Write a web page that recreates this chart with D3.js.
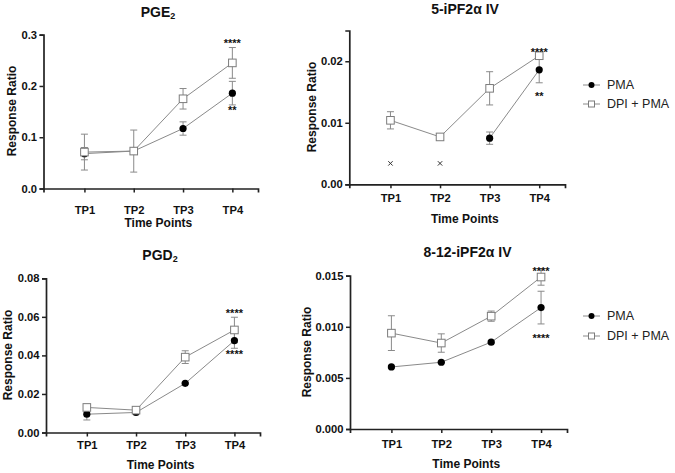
<!DOCTYPE html>
<html><head><meta charset="utf-8">
<script src="https://cdn.jsdelivr.net/npm/d3@7"></script>
<style>
html,body{margin:0;padding:0;background:#fff;}
svg{display:block;font-family:Arial,"Liberation Sans",sans-serif;}
</style></head>
<body><svg id="c" width="675" height="473"></svg>
<script>
// ---- data ----
const timePoints = ["TP1", "TP2", "TP3", "TP4"];
const seriesNames = ["PMA", "DPI + PMA"];

const pgePma    = [0.068, 0.073, 0.117, 0.186];
const pgePmaErr = [0.012, 0.006, 0.013, 0.023];
const pgeDpi    = [0.071, 0.073, 0.175, 0.245];
const pgeDpiErr = [0.035, 0.041, 0.020, 0.030];
const pgeTicks  = [0, 0.1, 0.2, 0.3];

const ipf5Pma    = [null, null, 0.0075, 0.0186];
const ipf5PmaErr = [null, null, 0.0010, 0.0021];
const ipf5PmaNd  = [0.0034, 0.0034, null, null];
const ipf5Dpi    = [0.0104, 0.0077, 0.0156, 0.0209];
const ipf5DpiErr = [0.0014, 0.0004, 0.0027, 0.0004];
const ipf5Ticks  = [0, 0.01, 0.02];

const pgdPma    = [0.0095, 0.0104, 0.0255, 0.0477];
const pgdPmaErr = [0.0030, 0.0006, 0.0005, 0.0040];
const pgdDpi    = [0.0130, 0.0116, 0.0391, 0.0532];
const pgdDpiErr = [0.0007, 0.0006, 0.0033, 0.0066];
const pgdTicks  = [0, 0.02, 0.04, 0.06, 0.08];

const ipf812Pma    = [0.00607, 0.00653, 0.00850, 0.01188];
const ipf812PmaErr = [0.0001, 0.0001, 0.0001, 0.0016];
const ipf812Dpi    = [0.00938, 0.00841, 0.01104, 0.01487];
const ipf812DpiErr = [0.0017, 0.0009, 0.0005, 0.0008];
const ipf812Ticks  = [0, 0.005, 0.010, 0.015];

const pgeStars    = {dpi: [null, null, null, "****"], pma: [null, null, null, "**"]};
const ipf5Stars   = {dpi: [null, null, null, "****"], pma: [null, null, null, "**"]};
const pgdStars    = {dpi: [null, null, null, "****"], pma: [null, null, null, "****"]};
const ipf812Stars = {dpi: [null, null, null, "****"], pma: [null, null, null, "****"]};

// ---- panels (layout) ----
const panels = [
  {title: [["PGE", 0], ["2", 1]], pma: pgePma, pmaErr: pgePmaErr, dpi: pgeDpi, dpiErr: pgeDpiErr,
   ticks: pgeTicks, fmt: ".1f", yMax: 0.3, stars: pgeStars,
   left: 43.5, right: 258, top: 34.7, bottom: 188.5, titleX: 158, titleY: 12,
   tickPad: 13.5, xTitleY: 223, yTitleX: 11.5, yTitleY: 111, starUp: 7, starDown: 3, legendY: null},
  {title: [["5-iPF2\u03b1 IV", 0]], pma: ipf5Pma, pmaErr: ipf5PmaErr, nd: ipf5PmaNd, dpi: ipf5Dpi, dpiErr: ipf5DpiErr,
   ticks: ipf5Ticks, fmt: ".2f", yMax: 0.025, stars: ipf5Stars,
   left: 349.3, right: 565, top: 30.5, bottom: 184.3, titleX: 465, titleY: 9,
   tickPad: 6, xTitleY: 219, yTitleX: 311.7, yTitleY: 107, starUp: 4, starDown: 11, legendY: [85, 104]},
  {title: [["PGD", 0], ["2", 1]], pma: pgdPma, pmaErr: pgdPmaErr, dpi: pgdDpi, dpiErr: pgdDpiErr,
   ticks: pgdTicks, fmt: ".2f", yMax: 0.08, stars: pgdStars,
   left: 46, right: 260, top: 278.3, bottom: 432.5, titleX: 160, titleY: 255,
   tickPad: 5, xTitleY: 465, yTitleX: 8, yTitleY: 355, starUp: 6.5, starDown: 3, legendY: null},
  {title: [["8-12-iPF2\u03b1 IV", 0]], pma: ipf812Pma, pmaErr: ipf812PmaErr, dpi: ipf812Dpi, dpiErr: ipf812DpiErr,
   ticks: ipf812Ticks, fmt: ".3f", yMax: 0.015, stars: ipf812Stars,
   left: 350, right: 567, top: 275.7, bottom: 429, titleX: 467.5, titleY: 251.7,
   tickPad: 6.8, xTitleY: 463.7, yTitleX: 306.7, yTitleY: 352, starUp: 0.5, starDown: 11.5, legendY: [316, 336]}
];

const GREY = "#8a8a8a", SQ = "#7c7c7c", AX = "#222";
const svg = d3.select("#c");

panels.forEach(p => {
  const g = svg.append("g");
  const x = d3.scaleLinear().domain([0.17, 4.52]).range([p.left, p.right]);
  const xi = i => x(i + 1);
  const y = d3.scaleLinear().domain([0, p.yMax]).range([p.bottom, p.top]);

  // axes
  const ya = g.append("g").attr("transform", `translate(${p.left},0)`)
    .call(d3.axisLeft(y).tickValues(p.ticks).tickFormat(d3.format(p.fmt)).tickSizeOuter(0).tickSize(4).tickPadding(2.5));
  const xa = g.append("g").attr("transform", `translate(0,${p.bottom})`)
    .call(d3.axisBottom(x).tickValues([1, 2, 3, 4]).tickFormat(d => timePoints[d - 1]).tickSizeOuter(0).tickSize(4).tickPadding(p.tickPad));
  [ya, xa].forEach(a => {
    a.select(".domain").attr("stroke", AX).attr("stroke-width", 1.7);
    a.selectAll(".tick line").attr("stroke", AX).attr("stroke-width", 1.5);
    a.selectAll(".tick text").attr("fill", "#111").attr("font-size", 11.2).attr("font-weight", "bold")
      .attr("font-family", "Arial, 'Liberation Sans', sans-serif");
  });

  // titles
  const t = g.append("text").attr("x", p.titleX).attr("y", p.titleY).attr("text-anchor", "middle")
    .attr("dominant-baseline", "central").attr("font-size", 14).attr("font-weight", "bold").attr("fill", "#111");
  p.title.forEach(([s, sub]) => {
    const ts = t.append("tspan").text(s);
    if (sub) ts.attr("font-size", 9).attr("dy", 4);
  });
  g.append("text").attr("x", x(2.5)).attr("y", p.xTitleY).attr("text-anchor", "middle")
    .attr("dominant-baseline", "central").attr("font-size", 12).attr("font-weight", "bold").attr("fill", "#111")
    .text("Time Points");
  g.append("text").attr("transform", `translate(${p.yTitleX},${p.yTitleY}) rotate(-90)`).attr("text-anchor", "middle")
    .attr("dominant-baseline", "central").attr("font-size", 12).attr("font-weight", "bold").attr("fill", "#111")
    .text("Response Ratio");

  const line = d3.line().defined(d => d.v != null).x(d => xi(d.i)).y(d => y(d.v));
  const pmaPts = p.pma.map((v, i) => ({v, e: p.pmaErr[i], i}));
  const dpiPts = p.dpi.map((v, i) => ({v, e: p.dpiErr[i], i}));

  g.append("path").datum(pmaPts).attr("d", line).attr("fill", "none").attr("stroke", GREY).attr("stroke-width", 1);
  g.append("path").datum(dpiPts).attr("d", line).attr("fill", "none").attr("stroke", GREY).attr("stroke-width", 1);

  const drawErr = pts => {
    pts.filter(d => d.v != null).forEach(d => {
      const x0 = xi(d.i), y1 = y(d.v + d.e), y2 = y(d.v - d.e);
      g.append("line").attr("x1", x0).attr("x2", x0).attr("y1", y1).attr("y2", y2).attr("stroke", GREY).attr("stroke-width", 1);
      [y1, y2].forEach(yy => g.append("line").attr("x1", x0 - 3.5).attr("x2", x0 + 3.5).attr("y1", yy).attr("y2", yy)
        .attr("stroke", GREY).attr("stroke-width", 1));
    });
  };
  drawErr(pmaPts);
  drawErr(dpiPts);

  g.selectAll(null).data(pmaPts.filter(d => d.v != null)).join("circle")
    .attr("cx", d => xi(d.i)).attr("cy", d => y(d.v)).attr("r", 3.6).attr("fill", "#000");
  g.selectAll(null).data(dpiPts.filter(d => d.v != null)).join("rect")
    .attr("x", d => xi(d.i) - 3.8).attr("y", d => y(d.v) - 3.8).attr("width", 7.6).attr("height", 7.6)
    .attr("fill", "#fff").attr("stroke", SQ).attr("stroke-width", 1);

  if (p.nd) {
    p.nd.forEach((v, i) => {
      if (v == null) return;
      const cx = xi(i), cy = y(v);
      g.append("path").attr("d", `M${cx - 2.2},${cy - 2.2}L${cx + 2.2},${cy + 2.2}M${cx - 2.2},${cy + 2.2}L${cx + 2.2},${cy - 2.2}`)
        .attr("stroke", "#333").attr("stroke-width", 1);
    });
  }

  // significance stars
  const star = (cx, cy, s) => g.append("text").attr("x", cx).attr("y", cy + 6.5).attr("text-anchor", "middle")
    .attr("font-size", 11).attr("font-weight", "bold").attr("fill", "#111").text(s);
  p.stars.dpi.forEach((s, i) => { if (s) star(xi(i), y(p.dpi[i] + p.dpiErr[i]) - p.starUp, s); });
  p.stars.pma.forEach((s, i) => { if (s) star(xi(i), y(p.pma[i] - p.pmaErr[i]) + p.starDown, s); });

  // legend
  if (p.legendY) {
    const lg = svg.append("g");
    p.legendY.forEach((ly, k) => {
      lg.append("line").attr("x1", 583).attr("x2", 600).attr("y1", ly).attr("y2", ly).attr("stroke", GREY).attr("stroke-width", 1);
      if (k === 0) lg.append("circle").attr("cx", 591.5).attr("cy", ly).attr("r", 3).attr("fill", "#000");
      else lg.append("rect").attr("x", 588.5).attr("y", ly - 3).attr("width", 6).attr("height", 6)
        .attr("fill", "#fff").attr("stroke", SQ).attr("stroke-width", 1);
      lg.append("text").attr("x", 607).attr("y", ly).attr("dominant-baseline", "central").attr("font-size", 12.5)
        .attr("fill", "#222").text(seriesNames[k]);
    });
  }
});
</script></body></html>
